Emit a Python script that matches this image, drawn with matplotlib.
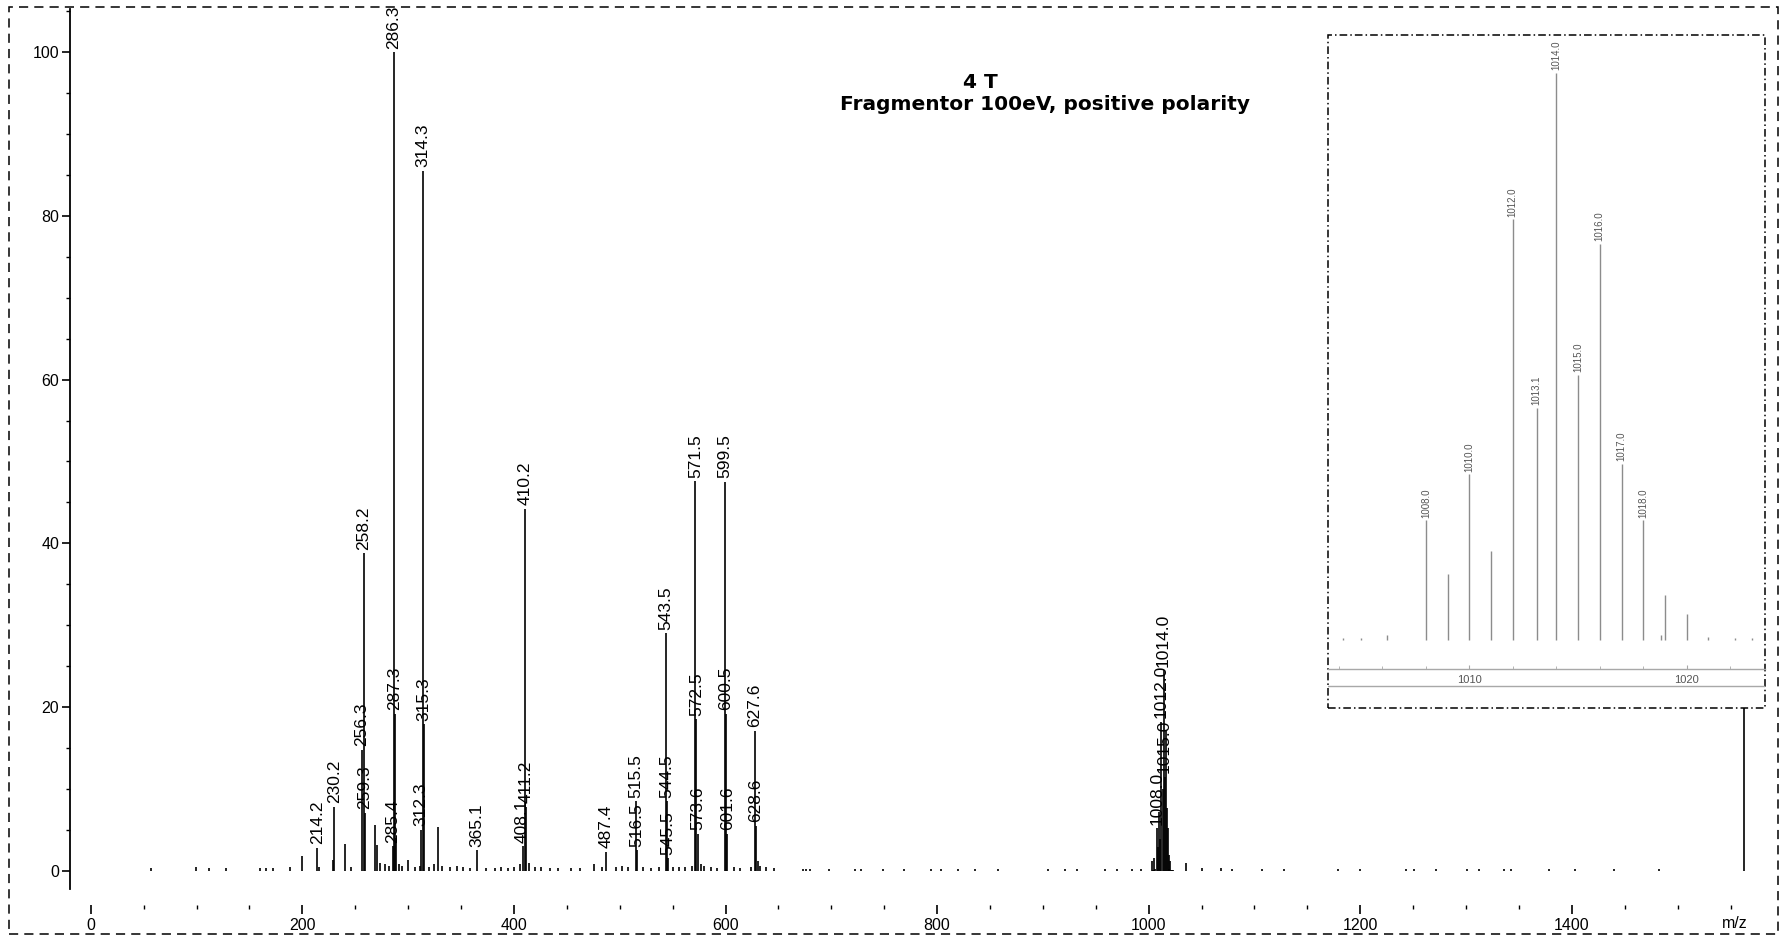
import matplotlib
matplotlib.use("Agg")
import matplotlib.pyplot as plt
from matplotlib.patches import Rectangle
from matplotlib.ticker import MultipleLocator

W, H, DPI = 1780, 941, 100

# ---------------- spectrum data ----------------
# labelled fragment ions: m/z and relative abundance (%)
labelled_mz = [214.2, 230.2, 256.3, 258.2, 259.3, 285.4, 286.3, 287.3, 312.3,
               314.3, 315.3, 365.1, 408.1, 410.2, 411.2, 487.4, 515.5, 516.5,
               543.5, 544.5, 545.5, 571.5, 572.5, 573.6, 599.5, 600.5, 601.6,
               627.6, 628.6]
labelled_int = [2.8, 7.8, 14.8, 38.8, 7.1, 3.0, 100.0, 19.2, 5.0,
                85.5, 17.9, 2.5, 3.0, 44.2, 7.8, 2.3, 8.5, 2.5,
                29.0, 8.5, 1.5, 47.6, 18.5, 4.5, 47.5, 19.2, 4.5,
                17.1, 5.5]

# unlabelled minor ions and baseline signals
minor_mz = [57, 99, 112, 128, 160, 166, 172, 188, 200.1, 216.0, 228.9, 240.5,
            246, 268.5, 270.7, 273, 278, 282, 288.3, 291, 294, 300.2, 306,
            311, 320, 324, 328.4, 332, 340, 346, 352, 358, 374, 382, 388, 394,
            400, 406, 414, 420, 426, 434, 442, 454, 462, 476, 483, 496, 502,
            508, 522, 530, 537, 550, 556, 562, 568, 577, 580, 586, 592, 608,
            614, 624, 630.5, 633, 638, 646, 673, 676, 680, 698, 722, 728, 749,
            769, 794, 804, 820, 836, 858, 905, 921, 932, 959, 970, 984, 993,
            1003, 1005, 1035, 1050, 1068, 1079, 1107, 1128, 1179, 1200, 1243,
            1251, 1272, 1301, 1312, 1336, 1342, 1378, 1403, 1440, 1482, 1562.5]
minor_int = [0.3, 0.4, 0.3, 0.3, 0.3, 0.3, 0.3, 0.4, 1.8, 0.5, 1.3, 3.3,
             0.5, 5.6, 3.2, 1.0, 0.8, 0.6, 4.0, 0.8, 0.6, 1.3, 0.5,
             0.6, 0.5, 0.8, 5.4, 0.6, 0.5, 0.6, 0.4, 0.3, 0.3, 0.3, 0.4, 0.3,
             0.4, 0.8, 0.9, 0.5, 0.4, 0.3, 0.3, 0.3, 0.3, 0.8, 0.5, 0.4, 0.6,
             0.5, 0.4, 0.3, 0.4, 0.5, 0.4, 0.5, 0.6, 0.8, 0.6, 0.4, 0.3, 0.5,
             0.3, 0.5, 1.2, 0.6, 0.4, 0.3, 0.2, 0.2, 0.2, 0.2, 0.2, 0.2, 0.2,
             0.2, 0.2, 0.2, 0.2, 0.2, 0.2, 0.2, 0.2, 0.2, 0.2, 0.2, 0.2, 0.2,
             1.2, 1.5, 1.0, 0.3, 0.3, 0.2, 0.2, 0.2, 0.2, 0.2, 0.2,
             0.2, 0.2, 0.2, 0.2, 0.2, 0.2, 0.2, 0.2, 0.2, 0.2, 22.0]

# molecular ion isotope cluster, relative to m/z 1014.0 (= 100 %)
cluster_mz = [1004.2, 1005.0, 1006.2, 1008.0, 1009.0, 1010.0, 1011.0, 1012.0,
              1013.1, 1014.0, 1015.0, 1016.0, 1017.0, 1018.0, 1018.8, 1019.0,
              1020.0, 1021.0, 1022.2, 1023.0]
cluster_rel = [0.3, 0.4, 0.9, 21.1, 11.6, 29.2, 15.7, 74.2,
               40.9, 100.0, 46.8, 69.9, 31.1, 21.1, 0.9, 7.9,
               4.6, 0.5, 0.4, 0.3]
cluster_base = 24.5   # abundance of m/z 1014.0 in the full spectrum
inset_labelled = [1008.0, 1010.0, 1012.0, 1013.1, 1014.0, 1015.0, 1016.0,
                  1017.0, 1018.0]
main_labelled = [1008.0, 1012.0, 1014.0, 1015.0]

x_major = [0, 200, 400, 600, 800, 1000, 1200, 1400]
y_major = [0, 20, 40, 60, 80, 100]
inset_major = [1010, 1020]

title_1 = "4 T"
title_2 = "Fragmentor 100eV, positive polarity"

# ---------------- figure ----------------
plt.rcParams["font.family"] = ["Liberation Sans", "DejaVu Sans"]
PEAK_FONT = dict(fontsize=12.5, family=["Liberation Sans", "DejaVu Sans"])

fig = plt.figure(figsize=(W / DPI, H / DPI), dpi=DPI)
fig.patch.set_facecolor("white")


def px_box(x0, y0, x1, y1):
    """figure-fraction box from pixel corners (y measured from top)"""
    return [x0 / W, 1 - y1 / H, (x1 - x0) / W, (y1 - y0) / H]


# main axes: 0 % at y=870.7 px, 8.185 px per %; m/z 0 at x=90.8 px, 1.0579 px per unit
ax_x0, ax_x1, ax_y0, ax_y1 = 70.4, 1770.0, 9.0, 905.0
ax = fig.add_axes(px_box(ax_x0, ax_y0, ax_x1, ax_y1))
ax.set_xlim((ax_x0 - 90.8) / 1.0579, (ax_x1 - 90.8) / 1.0579)
ax.set_ylim((870.7 - ax_y1) / 8.185, (870.7 - ax_y0) / 8.185)
ax.patch.set_alpha(0)

for s in ("top", "right", "bottom"):
    ax.spines[s].set_visible(False)
ax.spines["left"].set_linewidth(1.3)
ax.spines["left"].set_bounds(-2.2, ax.get_ylim()[1])

ax.set_xticks(x_major)
ax.set_xticklabels([str(v) for v in x_major])
ax.xaxis.set_minor_locator(MultipleLocator(50))
ax.set_yticks(y_major)
ax.set_yticklabels([str(v) for v in y_major])
ax.yaxis.set_minor_locator(MultipleLocator(5))
ax.tick_params(axis="x", which="major", length=6.5, width=1.2, pad=3, labelsize=11.5)
ax.tick_params(axis="x", which="minor", length=3, width=1.0)
ax.tick_params(axis="y", which="major", length=6, width=1.2, pad=2, labelsize=11.5)
ax.tick_params(axis="y", which="minor", length=3, width=1.0)

# spectrum sticks
ax.vlines(minor_mz, 0, minor_int, color="black", lw=1.2)
ax.vlines(labelled_mz, 0, labelled_int, color="black", lw=1.2)
cluster_main = [r * cluster_base / 100.0 for r in cluster_rel]
ax.vlines(cluster_mz, 0, cluster_main, color="black", lw=1.2)

for m, v in zip(labelled_mz, labelled_int):
    ax.annotate(f"{m:.1f}", xy=(m, v), xytext=(0, 2.5), textcoords="offset points",
                rotation=90, ha="center", va="bottom", **PEAK_FONT)
for m, v in zip(cluster_mz, cluster_main):
    if m in main_labelled:
        ax.annotate(f"{m:.1f}", xy=(m, v), xytext=(0, 2.5), textcoords="offset points",
                    rotation=90, ha="center", va="bottom", **PEAK_FONT)

fig.text(1735 / W, 1 - 923 / H, "m/z", ha="center", va="center", fontsize=11.5)

# titles
fig.text(963 / W, 1 - 83 / H, title_1, ha="left", va="center",
         fontsize=14.5, fontweight="bold", family=["DejaVu Sans"])
fig.text(840 / W, 1 - 104 / H, title_2, ha="left", va="center",
         fontsize=14.5, fontweight="bold", family=["DejaVu Sans"])

# ---------------- isotope-cluster inset ----------------
in_x0, in_y0, in_x1, in_y1 = 1328.0, 35.0, 1765.0, 708.0
base_px, k_in = 640.0, (640.0 - 73.0) / 100.0
axi = fig.add_axes(px_box(in_x0, in_y0, in_x1, in_y1))
axi.set_facecolor("white")
axi.set_xlim(1003.5, 1023.6)
axi.set_ylim(-(in_y1 - base_px) / k_in, (base_px - in_y0) / k_in)
for s in ("top", "right", "left"):
    axi.spines[s].set_visible(False)
axi.spines["bottom"].set_position(("data", -(669.3 - base_px) / k_in))
axi.spines["bottom"].set_color("#a8a8a8")
axi.spines["bottom"].set_linewidth(1.0)
axi.axhline(-(686.0 - base_px) / k_in, color="#a8a8a8", lw=1.0)
axi.set_yticks([])
axi.set_xticks(inset_major)
axi.set_xticklabels([str(v) for v in inset_major])
axi.xaxis.set_minor_locator(MultipleLocator(2))
axi.tick_params(axis="x", which="both", direction="in", color="#a8a8a8",
                labelcolor="#555555", labelsize=8, pad=4)
axi.tick_params(axis="x", which="major", length=3)
axi.tick_params(axis="x", which="minor", length=2)

axi.vlines(cluster_mz, 0, cluster_rel, color="#8c8c8c", lw=1.0)
for m, v in zip(cluster_mz, cluster_rel):
    if m in inset_labelled:
        axi.annotate(f"{m:.1f}", xy=(m, v), xytext=(0, 2), textcoords="offset points",
                     rotation=90, ha="center", va="bottom", fontsize=7,
                     color="#555555")

axi.add_patch(Rectangle((0, 0), 1, 1, transform=axi.transAxes, fill=False,
                        edgecolor="black", lw=1.1, linestyle=(0, (5, 2, 1, 2)),
                        clip_on=False))

# outer dashed frame
fig.add_artist(Rectangle((9 / W, 1 - 934 / H), (1778 - 9) / W, (934 - 7) / H,
                         transform=fig.transFigure, fill=False, edgecolor="black",
                         lw=1.1, linestyle=(0, (6, 4))))

fig.savefig("out.png", dpi=DPI)
